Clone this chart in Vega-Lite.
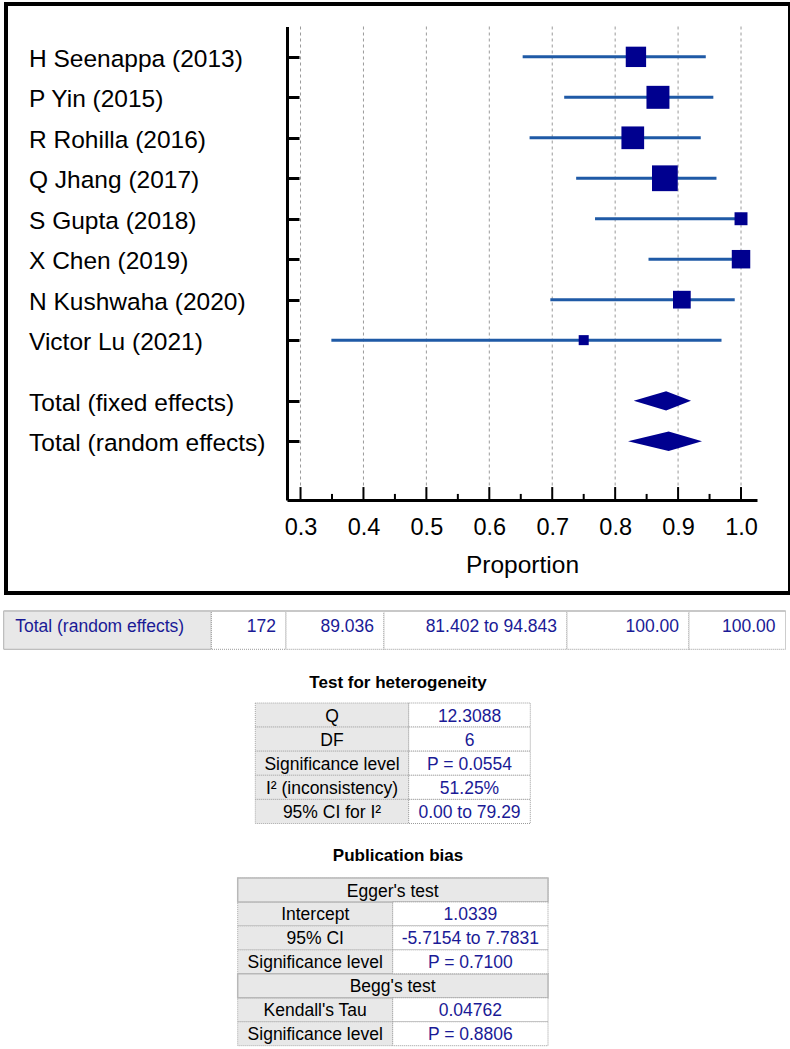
{
  "$schema": "https://vega.github.io/schema/vega-lite/v6.json",
  "padding": {"left": 2, "top": 2, "right": 2, "bottom": 0},
  "spacing": 15,
  "config": {"view": {"stroke": null}, "font": "Liberation Sans"},
  "datasets": {
    "forest": [
      {"label": "H Seenappa (2013)", "row": 1, "p": 0.833, "lo": 0.653, "hi": 0.944, "w": 13.6, "kind": "study"},
      {"label": "P Yin (2015)", "row": 2, "p": 0.868, "lo": 0.719, "hi": 0.956, "w": 17.3, "kind": "study"},
      {"label": "R Rohilla (2016)", "row": 3, "p": 0.828, "lo": 0.664, "hi": 0.936, "w": 16.9, "kind": "study"},
      {"label": "Q Jhang (2017)", "row": 4, "p": 0.879, "lo": 0.738, "hi": 0.961, "w": 21.8, "kind": "study"},
      {"label": "S Gupta (2018)", "row": 5, "p": 1.0, "lo": 0.768, "hi": 1.0, "w": 5.5, "kind": "study"},
      {"label": "X Chen (2019)", "row": 6, "p": 1.0, "lo": 0.853, "hi": 1.0, "w": 11.2, "kind": "study"},
      {"label": "N Kushwaha (2020)", "row": 7, "p": 0.906, "lo": 0.697, "hi": 0.99, "w": 10.3, "kind": "study"},
      {"label": "Victor Lu (2021)", "row": 8, "p": 0.75, "lo": 0.349, "hi": 0.969, "w": 3.3, "kind": "study"},
      {"label": "Total (fixed effects)", "row": 9.5, "p": 0.881, "lo": 0.8295, "hi": 0.9205, "kind": "total"},
      {"label": "Total (random effects)", "row": 10.5, "p": 0.885, "lo": 0.8204, "hi": 0.938, "kind": "total"}
    ],
    "diamond": [
      {"model": "fixed", "p": 0.8295, "top": 9.5, "bottom": 9.5},
      {"model": "fixed", "p": 0.881, "top": 9.264, "bottom": 9.736},
      {"model": "fixed", "p": 0.9205, "top": 9.5, "bottom": 9.5},
      {"model": "random", "p": 0.8204, "top": 10.5, "bottom": 10.5},
      {"model": "random", "p": 0.885, "top": 10.26, "bottom": 10.74},
      {"model": "random", "p": 0.938, "top": 10.5, "bottom": 10.5}
    ],
    "major": [
      {"v": 0.3}, {"v": 0.4}, {"v": 0.5}, {"v": 0.6}, {"v": 0.7}, {"v": 0.8}, {"v": 0.9}, {"v": 1.0}
    ],
    "minor": [
      {"v": 0.35}, {"v": 0.45}, {"v": 0.55}, {"v": 0.65}, {"v": 0.75}, {"v": 0.85}, {"v": 0.95}
    ],
    "cells": [
      {"tbl": "t1", "r": 0, "c0": 0, "c1": 1, "tx": 0, "text": "Total (random effects)", "kind": "label", "al": "left"},
      {"tbl": "t1", "r": 0, "c0": 1, "c1": 2, "tx": 2, "text": "172", "kind": "value", "al": "right"},
      {"tbl": "t1", "r": 0, "c0": 2, "c1": 3, "tx": 3, "text": "89.036", "kind": "value", "al": "right"},
      {"tbl": "t1", "r": 0, "c0": 3, "c1": 4, "tx": 4, "text": "81.402 to 94.843", "kind": "value", "al": "right"},
      {"tbl": "t1", "r": 0, "c0": 4, "c1": 5, "tx": 5, "text": "100.00", "kind": "value", "al": "right"},
      {"tbl": "t1", "r": 0, "c0": 5, "c1": 6, "tx": 6, "text": "100.00", "kind": "value", "al": "right"},
      {"tbl": "het", "r": 0, "c0": 0, "c1": 1, "tx": 0.5, "text": "Q", "kind": "label"},
      {"tbl": "het", "r": 0, "c0": 1, "c1": 2, "tx": 1.5, "text": "12.3088", "kind": "value"},
      {"tbl": "het", "r": 1, "c0": 0, "c1": 1, "tx": 0.5, "text": "DF", "kind": "label"},
      {"tbl": "het", "r": 1, "c0": 1, "c1": 2, "tx": 1.5, "text": "6", "kind": "value"},
      {"tbl": "het", "r": 2, "c0": 0, "c1": 1, "tx": 0.5, "text": "Significance level", "kind": "label"},
      {"tbl": "het", "r": 2, "c0": 1, "c1": 2, "tx": 1.5, "text": "P = 0.0554", "kind": "value"},
      {"tbl": "het", "r": 3, "c0": 0, "c1": 1, "tx": 0.5, "text": "I² (inconsistency)", "kind": "label"},
      {"tbl": "het", "r": 3, "c0": 1, "c1": 2, "tx": 1.5, "text": "51.25%", "kind": "value"},
      {"tbl": "het", "r": 4, "c0": 0, "c1": 1, "tx": 0.5, "text": "95% CI for I²", "kind": "label"},
      {"tbl": "het", "r": 4, "c0": 1, "c1": 2, "tx": 1.5, "text": "0.00 to 79.29", "kind": "value"},
      {"tbl": "pub", "r": 0, "c0": 0, "c1": 2, "tx": 1, "text": "Egger's test", "kind": "head"},
      {"tbl": "pub", "r": 1, "c0": 0, "c1": 1, "tx": 0.5, "text": "Intercept", "kind": "label"},
      {"tbl": "pub", "r": 1, "c0": 1, "c1": 2, "tx": 1.5, "text": "1.0339", "kind": "value"},
      {"tbl": "pub", "r": 2, "c0": 0, "c1": 1, "tx": 0.5, "text": "95% CI", "kind": "label"},
      {"tbl": "pub", "r": 2, "c0": 1, "c1": 2, "tx": 1.5, "text": "-5.7154 to 7.7831", "kind": "value"},
      {"tbl": "pub", "r": 3, "c0": 0, "c1": 1, "tx": 0.5, "text": "Significance level", "kind": "label"},
      {"tbl": "pub", "r": 3, "c0": 1, "c1": 2, "tx": 1.5, "text": "P = 0.7100", "kind": "value"},
      {"tbl": "pub", "r": 4, "c0": 0, "c1": 2, "tx": 1, "text": "Begg's test", "kind": "head"},
      {"tbl": "pub", "r": 5, "c0": 0, "c1": 1, "tx": 0.5, "text": "Kendall's Tau", "kind": "label"},
      {"tbl": "pub", "r": 5, "c0": 1, "c1": 2, "tx": 1.5, "text": "0.04762", "kind": "value"},
      {"tbl": "pub", "r": 6, "c0": 0, "c1": 1, "tx": 0.5, "text": "Significance level", "kind": "label"},
      {"tbl": "pub", "r": 6, "c0": 1, "c1": 2, "tx": 1.5, "text": "P = 0.8806", "kind": "value"}
    ]
  },
  "vconcat": [
    {
      "width": 784,
      "height": 589,
      "view": {"stroke": "black", "strokeWidth": 4},
      "layer": [
        {
          "data": {"name": "major"},
          "mark": {"type": "rule", "color": "#9a9a9a", "strokeWidth": 1, "strokeDash": [3, 3]},
          "encoding": {
            "x": {
              "field": "v", "type": "quantitative",
              "scale": {"domain": [0.2785, 1.0254], "range": [281, 751], "nice": false, "zero": false},
              "axis": {
                "values": [0.3, 0.4, 0.5, 0.6, 0.7, 0.8, 0.9, 1.0],
                "format": ".1f",
                "title": "Proportion",
                "offset": -93,
                "domainColor": "black", "domainWidth": 3,
                "tickColor": "black", "tickOpacity": 0, "tickWidth": 2, "tickSize": -13,
                "labelFont": "Liberation Sans", "labelFontSize": 23.5, "labelColor": "black",
                "labelPadding": 28, "labelFlush": false, "labelOverlap": false,
                "titleFont": "Liberation Sans", "titleFontSize": 24.5, "titleFontWeight": "normal",
                "titleColor": "black", "titlePadding": 15,
                "grid": false
              }
            },
            "y": {"datum": 0.25},
            "y2": {"datum": 11.95}
          }
        },
        {
          "data": {"name": "forest"},
          "transform": [{"filter": "datum.kind == 'study'"}],
          "mark": {"type": "rule", "color": "#1f5aa6", "strokeWidth": 3},
          "encoding": {
            "x": {"field": "lo", "type": "quantitative"},
            "x2": {"field": "hi"},
            "y": {
              "field": "row", "type": "quantitative",
              "scale": {"domain": [0.25, 11.95], "range": [22.5, 496], "nice": false, "zero": false},
              "axis": {
                "values": [1, 2, 3, 4, 5, 6, 7, 8, 9.5, 10.5],
                "labels": false, "title": null, "grid": false,
                "offset": -281,
                "domainColor": "black", "domainWidth": 3,
                "tickColor": "black", "tickWidth": 3, "tickSize": -12
              }
            }
          }
        },
        {
          "data": {"name": "major"},
          "mark": {"type": "rule", "color": "black", "strokeWidth": 2},
          "encoding": {
            "x": {"field": "v", "type": "quantitative"},
            "y": {"datum": 11.95},
            "y2": {"datum": 11.63}
          }
        },
        {
          "data": {"name": "minor"},
          "mark": {"type": "rule", "color": "black", "strokeWidth": 2},
          "encoding": {
            "x": {"field": "v", "type": "quantitative"},
            "y": {"datum": 11.95},
            "y2": {"datum": 11.8}
          }
        },
        {
          "data": {"name": "forest"},
          "transform": [{"filter": "datum.kind == 'study'"}],
          "mark": {"type": "point", "shape": "square", "filled": true, "color": "#00008f", "opacity": 1, "strokeWidth": 0},
          "encoding": {
            "x": {"field": "p", "type": "quantitative"},
            "y": {"field": "row", "type": "quantitative"},
            "size": {"field": "w", "type": "quantitative", "scale": {"domain": [0, 100], "range": [0, 3050]}, "legend": null}
          }
        },
        {
          "data": {"name": "diamond"},
          "mark": {"type": "area", "color": "#00008f", "interpolate": "linear", "opacity": 1},
          "encoding": {
            "x": {"field": "p", "type": "quantitative"},
            "y": {"field": "top", "type": "quantitative"},
            "y2": {"field": "bottom"},
            "detail": {"field": "model"}
          }
        },
        {
          "data": {"name": "forest"},
          "mark": {"type": "text", "align": "left", "baseline": "alphabetic", "dx": -258, "dy": 10, "fontSize": 24.5, "font": "Liberation Sans", "color": "black"},
          "encoding": {
            "x": {"datum": 0.2785},
            "y": {"field": "row", "type": "quantitative"},
            "text": {"field": "label"}
          }
        }
      ]
    },
    {
      "width": 784,
      "height": 47,
      "data": {"name": "cells"},
      "transform": [{"filter": "datum.tbl == 't1'"}],
      "layer": [
        {
          "transform": [{"filter": "datum.kind == 'label'"}],
          "mark": {"type": "rect", "fill": "#e8e8e8", "stroke": "#b0b0b0", "strokeWidth": 1},
          "encoding": {
            "x": {"field": "c0", "type": "quantitative", "scale": {"domain": [0, 1, 2, 3, 4, 5, 6], "range": [-2.3, 205.3, 280, 378, 561, 683, 779.5], "nice": false, "zero": false}, "axis": null},
            "x2": {"field": "c1"},
            "y": {"field": "r", "type": "ordinal", "scale": {"type": "band", "range": [0, 38.3], "paddingInner": 0, "paddingOuter": 0}, "axis": null}
          }
        },
        {
          "transform": [{"filter": "datum.kind == 'value'"}],
          "mark": {"type": "rect", "fill": "white", "stroke": "#9a9a9a", "strokeWidth": 1, "strokeDash": [1, 1]},
          "encoding": {
            "x": {"field": "c0", "type": "quantitative"},
            "x2": {"field": "c1"},
            "y": {"field": "r", "type": "ordinal"}
          }
        },
        {
          "mark": {"type": "rule", "color": "#c8c8c8", "strokeWidth": 2},
          "encoding": {
            "x": {"field": "c0", "type": "quantitative"},
            "x2": {"field": "c1"},
            "y": {"field": "r", "type": "ordinal", "bandPosition": 0}
          }
        },
        {
          "transform": [{"filter": "datum.al == 'left'"}],
          "mark": {"type": "text", "align": "left", "baseline": "alphabetic", "dx": 11.5, "dy": 21, "fontSize": 17.5, "font": "Liberation Sans", "color": "#1a1a96"},
          "encoding": {
            "x": {"field": "tx", "type": "quantitative"},
            "y": {"field": "r", "type": "ordinal", "bandPosition": 0},
            "text": {"field": "text"}
          }
        },
        {
          "transform": [{"filter": "datum.al == 'right'"}],
          "mark": {"type": "text", "align": "right", "baseline": "alphabetic", "dx": -10, "dy": 21, "fontSize": 17.5, "font": "Liberation Sans", "color": "#1a1a96"},
          "encoding": {
            "x": {"field": "tx", "type": "quantitative"},
            "y": {"field": "r", "type": "ordinal", "bandPosition": 0},
            "text": {"field": "text"}
          }
        }
      ]
    },
    {
      "width": 784,
      "height": 129,
      "title": {"text": "Test for heterogeneity", "anchor": "middle", "frame": "group", "fontSize": 17, "fontWeight": "bold", "font": "Liberation Sans", "color": "black", "baseline": "alphabetic", "offset": -2},
      "data": {"name": "cells"},
      "transform": [{"filter": "datum.tbl == 'het'"}],
      "layer": [
        {
          "transform": [{"filter": "datum.kind != 'value'"}],
          "mark": {"type": "rect", "fill": "#e8e8e8", "stroke": "#a8a8a8", "strokeWidth": 1, "strokeDash": [1, 1]},
          "encoding": {
            "x": {"field": "c0", "type": "quantitative", "scale": {"domain": [0, 1, 2], "range": [249.3, 402.7, 524.3], "nice": false, "zero": false}, "axis": null},
            "x2": {"field": "c1"},
            "y": {"field": "r", "type": "ordinal", "scale": {"type": "band", "range": [0, 120.5], "paddingInner": 0, "paddingOuter": 0}, "axis": null}
          }
        },
        {
          "transform": [{"filter": "datum.kind == 'value'"}],
          "mark": {"type": "rect", "fill": "white", "stroke": "#9a9a9a", "strokeWidth": 1, "strokeDash": [1, 1]},
          "encoding": {
            "x": {"field": "c0", "type": "quantitative"},
            "x2": {"field": "c1"},
            "y": {"field": "r", "type": "ordinal"}
          }
        },
        {
          "transform": [{"filter": "datum.kind != 'value'"}],
          "mark": {"type": "text", "align": "center", "baseline": "alphabetic", "dy": 19, "fontSize": 17.5, "font": "Liberation Sans", "color": "black"},
          "encoding": {
            "x": {"field": "tx", "type": "quantitative"},
            "y": {"field": "r", "type": "ordinal", "bandPosition": 0},
            "text": {"field": "text"}
          }
        },
        {
          "transform": [{"filter": "datum.kind == 'value'"}],
          "mark": {"type": "text", "align": "center", "baseline": "alphabetic", "dy": 19, "fontSize": 17.5, "font": "Liberation Sans", "color": "#1a1a96"},
          "encoding": {
            "x": {"field": "tx", "type": "quantitative"},
            "y": {"field": "r", "type": "ordinal", "bandPosition": 0},
            "text": {"field": "text"}
          }
        }
      ]
    },
    {
      "width": 784,
      "height": 168,
      "title": {"text": "Publication bias", "anchor": "middle", "frame": "group", "fontSize": 17, "fontWeight": "bold", "font": "Liberation Sans", "color": "black", "baseline": "alphabetic", "offset": -1},
      "data": {"name": "cells"},
      "transform": [{"filter": "datum.tbl == 'pub'"}],
      "layer": [
        {
          "transform": [{"filter": "datum.kind != 'value'"}],
          "mark": {"type": "rect", "fill": "#e8e8e8", "stroke": "#a8a8a8", "strokeWidth": 1, "strokeDash": [1, 1]},
          "encoding": {
            "x": {"field": "c0", "type": "quantitative", "scale": {"domain": [0, 1, 2], "range": [231.7, 386.7, 542], "nice": false, "zero": false}, "axis": null},
            "x2": {"field": "c1"},
            "y": {"field": "r", "type": "ordinal", "scale": {"type": "band", "range": [0, 167.7], "paddingInner": 0, "paddingOuter": 0}, "axis": null}
          }
        },
        {
          "transform": [{"filter": "datum.kind == 'head'"}],
          "mark": {"type": "rect", "fill": "#e8e8e8", "stroke": "#b8b8b8", "strokeWidth": 1.5},
          "encoding": {
            "x": {"field": "c0", "type": "quantitative"},
            "x2": {"field": "c1"},
            "y": {"field": "r", "type": "ordinal"}
          }
        },
        {
          "transform": [{"filter": "datum.kind == 'value'"}],
          "mark": {"type": "rect", "fill": "white", "stroke": "#9a9a9a", "strokeWidth": 1, "strokeDash": [1, 1]},
          "encoding": {
            "x": {"field": "c0", "type": "quantitative"},
            "x2": {"field": "c1"},
            "y": {"field": "r", "type": "ordinal"}
          }
        },
        {
          "transform": [{"filter": "datum.kind != 'value'"}],
          "mark": {"type": "text", "align": "center", "baseline": "alphabetic", "dy": 18.5, "fontSize": 17.5, "font": "Liberation Sans", "color": "black"},
          "encoding": {
            "x": {"field": "tx", "type": "quantitative"},
            "y": {"field": "r", "type": "ordinal", "bandPosition": 0},
            "text": {"field": "text"}
          }
        },
        {
          "transform": [{"filter": "datum.kind == 'value'"}],
          "mark": {"type": "text", "align": "center", "baseline": "alphabetic", "dy": 18.5, "fontSize": 17.5, "font": "Liberation Sans", "color": "#1a1a96"},
          "encoding": {
            "x": {"field": "tx", "type": "quantitative"},
            "y": {"field": "r", "type": "ordinal", "bandPosition": 0},
            "text": {"field": "text"}
          }
        }
      ]
    }
  ]
}
